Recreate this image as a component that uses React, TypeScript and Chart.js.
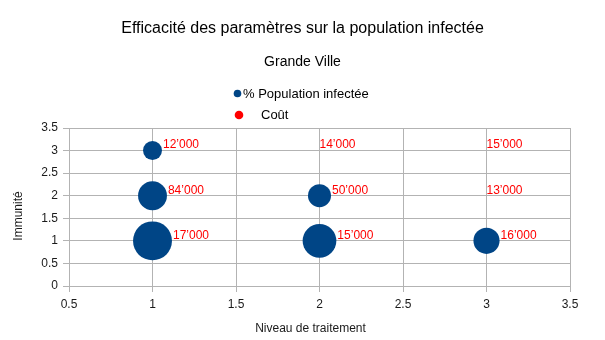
import { useEffect, useRef } from "react";
import { Chart, registerables } from "chart.js";

Chart.register(...registerables);

const titleText = "Efficacité des paramètres sur la population infectée";
const subtitleText = "Grande Ville";
const xAxisTitle = "Niveau de traitement";
const yAxisTitle = "Immunité";
const seriesNames = ["% Population infectée", "Coût"];

const traitement = [1, 1, 1, 2, 2, 2, 3, 3, 3];
const immunite = [3, 2, 1, 3, 2, 1, 3, 2, 1];
const populationInfectee = [9.5, 22, 40, 0, 14, 30, 0, 0, 18];
const cout = [12000, 84000, 17000, 14000, 50000, 15000, 15000, 13000, 16000];

const xTicksMin = 0.5;
const xTicksMax = 3.5;
const yTicksMin = 0;
const yTicksMax = 3.5;
const tickStep = 0.5;

const FONT = "'Liberation Sans', Arial, Helvetica, sans-serif";
const BLUE = "#004586";
const RED = "#ff0000";
const GRID = "#b3b3b3";
const TEXT = "#1a1a1a";

const fmtCost = (n: number) => String(n).replace(/\B(?=(\d{3})+(?!\d))/g, "\u2019");
const fmtTick = (v: number | string) => String(Math.round(Number(v) * 100) / 100);
const bubbleRadius = (v: number) => Math.sqrt(v) * 3.08;

const decorPlugin = {
  id: "decor",
  afterDraw(chart: any) {
    const ctx = chart.ctx as CanvasRenderingContext2D;
    const W = chart.width;
    ctx.save();
    // titles
    ctx.fillStyle = "#000";
    ctx.textAlign = "center";
    ctx.textBaseline = "alphabetic";
    ctx.font = `16px ${FONT}`;
    ctx.fillText(titleText, W / 2, 33);
    ctx.font = `14px ${FONT}`;
    ctx.fillText(subtitleText, W / 2, 66);

    // legend
    const ds = chart.data.datasets;
    ctx.textAlign = "left";
    ctx.textBaseline = "middle";
    ctx.font = `13px ${FONT}`;
    ctx.fillStyle = ds[0].backgroundColor;
    ctx.beginPath();
    ctx.arc(237.5, 93.5, 3.8, 0, Math.PI * 2);
    ctx.fill();
    ctx.fillStyle = "#000";
    ctx.fillText(ds[0].label, 243, 94);
    ctx.fillStyle = ds[1].backgroundColor;
    ctx.beginPath();
    ctx.arc(239, 115, 4.3, 0, Math.PI * 2);
    ctx.fill();
    ctx.fillStyle = "#000";
    ctx.fillText(ds[1].label, 261, 115);

    // axis titles
    ctx.font = `12px ${FONT}`;
    ctx.fillStyle = TEXT;
    ctx.textAlign = "center";
    ctx.fillText(xAxisTitle, 310.5, 329);
    ctx.save();
    ctx.translate(19, 216);
    ctx.rotate(-Math.PI / 2);
    ctx.fillText(yAxisTitle, 0, 0);
    ctx.restore();

    // cost labels
    const costMeta = chart.getDatasetMeta(1);
    ctx.font = `12px ${FONT}`;
    ctx.fillStyle = RED;
    ctx.textAlign = "left";
    ctx.textBaseline = "middle";
    costMeta.data.forEach((el: any, i: number) => {
      const r = bubbleRadius(populationInfectee[i]);
      const off = r > 0 ? r + 1 : 0;
      ctx.fillText(fmtCost(cout[i]), el.x + off, el.y - 5.5);
    });
    ctx.restore();
  },
};

export default function App() {
  const ref = useRef<HTMLCanvasElement | null>(null);
  useEffect(() => {
    if (!ref.current) return;
    const chart = new Chart(ref.current, {
      type: "bubble",
      data: {
        datasets: [
          {
            label: seriesNames[0],
            data: traitement.map((x, i) => ({ x, y: immunite[i], r: bubbleRadius(populationInfectee[i]) })),
            backgroundColor: BLUE,
            borderColor: BLUE,
            borderWidth: 0,
          },
          {
            label: seriesNames[1],
            data: traitement.map((x, i) => ({ x, y: immunite[i], r: 0 })),
            backgroundColor: RED,
            borderColor: RED,
            borderWidth: 0,
          },
        ],
      },
      options: {
        responsive: false,
        animation: false,
        devicePixelRatio: 1,
        layout: { padding: { top: 128, right: 35, left: 0, bottom: 0 } },
        plugins: {
          legend: { display: false },
          title: { display: false },
          tooltip: { enabled: false },
        },
        scales: {
          x: {
            type: "linear",
            min: xTicksMin,
            max: xTicksMax,
            afterFit: (s: any) => { s.height = 54; },
            ticks: { stepSize: tickStep, padding: 5, color: TEXT, font: { family: FONT, size: 12 }, maxRotation: 0, callback: (v: any) => fmtTick(v) },
            grid: { color: GRID, tickLength: 6, tickColor: GRID },
            border: { color: GRID },
          },
          y: {
            type: "linear",
            min: yTicksMin,
            max: yTicksMax,
            afterFit: (s: any) => { s.width = 69; },
            ticks: { stepSize: tickStep, padding: 5, color: TEXT, font: { family: FONT, size: 12 }, callback: (v: any) => fmtTick(v) },
            grid: { color: GRID, tickLength: 6, tickColor: GRID },
            border: { color: GRID },
          },
        },
      },
      plugins: [decorPlugin],
    });
    return () => chart.destroy();
  }, []);
  return (
    <div style={{ position: "absolute", left: 0, top: 0, width: 605, height: 340, background: "#fff" }}>
      <canvas ref={ref} width={605} height={340} />
    </div>
  );
}
